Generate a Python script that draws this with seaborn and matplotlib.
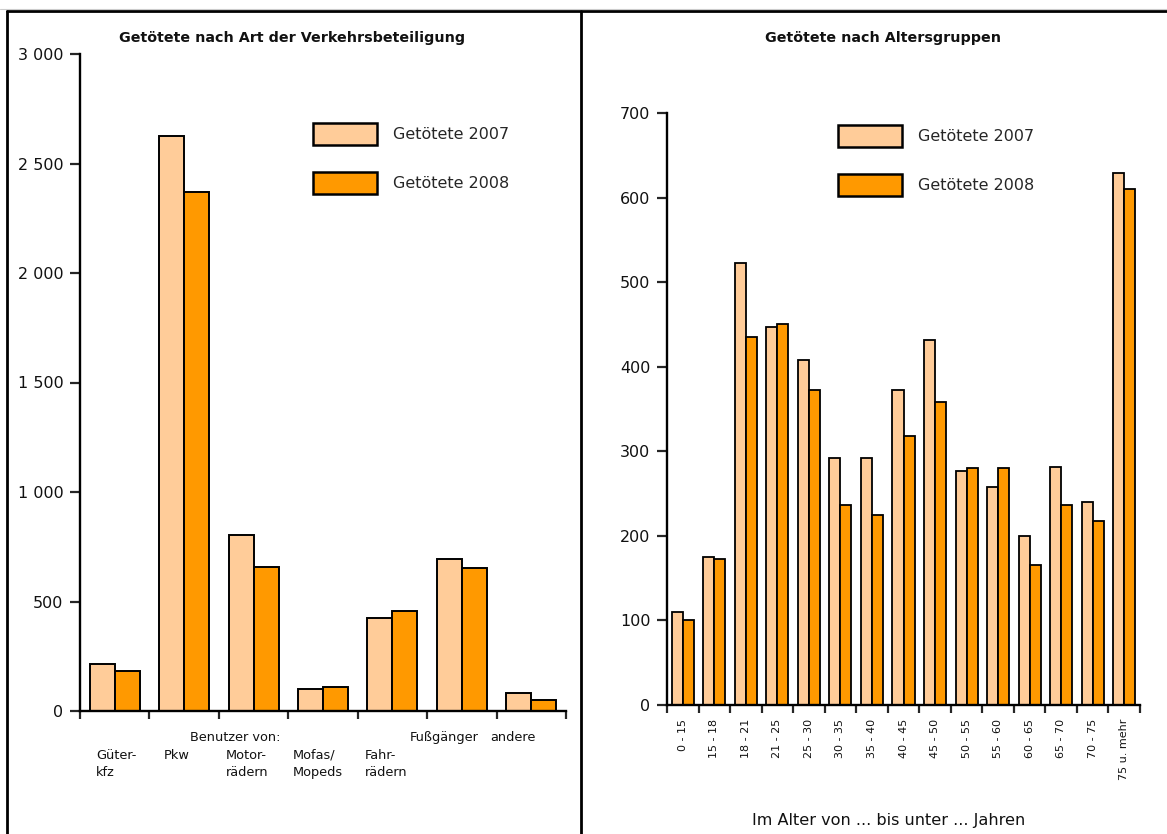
import numpy as np
import pandas as pd
import matplotlib
matplotlib.use("Agg")
import matplotlib.pyplot as plt
import matplotlib.transforms as mtransforms
from matplotlib.patches import Patch
from matplotlib.lines import Line2D
import seaborn as sns

# ---------------- data ----------------
years = ["Getötete 2007", "Getötete 2008"]

left_categories = ["Güterkfz", "Pkw", "Motorräder", "Mofas/Mopeds", "Fahrräder", "Fußgänger", "andere"]
left_2007 = [214, 2625, 805, 100, 425, 695, 82]
left_2008 = [183, 2368, 656, 110, 456, 653, 50]
left_labels = ["Güter-\nkfz", "Pkw", "Motor-\nrädern", "Mofas/\nMopeds", "Fahr-\nrädern", "Fußgänger", "andere"]
left_group_label = "Benutzer von:"
left_yticks = [0, 500, 1000, 1500, 2000, 2500, 3000]

age_groups = ["0 - 15", "15 - 18", "18 - 21", "21 - 25", "25 - 30", "30 - 35", "35 - 40",
              "40 - 45", "45 - 50", "50 - 55", "55 - 60", "60 - 65", "65 - 70", "70 - 75", "75 u. mehr"]
age_2007 = [110, 175, 523, 447, 408, 292, 292, 372, 431, 277, 258, 200, 282, 240, 629]
age_2008 = [101, 173, 435, 451, 372, 237, 225, 318, 358, 280, 280, 165, 237, 217, 610]
right_yticks = [0, 100, 200, 300, 400, 500, 600, 700]

title_left = "Getötete nach Art der Verkehrsbeteiligung"
title_right = "Getötete nach Altersgruppen"
xlabel_right = "Im Alter von ... bis unter ... Jahren"

colors = ["#FFCC99", "#FF9900"]

sns.set_style("white")
plt.rcParams["font.family"] = ["DejaVu Sans"]

W, H = 1167, 834
fig = plt.figure(figsize=(W / 100, H / 100), dpi=100)


def fx(px):
    return px / W


def fy(py):
    return 1 - py / H


# axes placement (pixel based)
axL = fig.add_axes([fx(80), fy(711), fx(566 - 80), (711 - 54) / H])
axR = fig.add_axes([fx(667), fy(705), fx(1140 - 667), (705 - 113) / H])

dfL = pd.DataFrame({
    "cat": left_categories * 2,
    "val": left_2007 + left_2008,
    "year": [years[0]] * len(left_categories) + [years[1]] * len(left_categories),
})
dfR = pd.DataFrame({
    "cat": age_groups * 2,
    "val": age_2007 + age_2008,
    "year": [years[0]] * len(age_groups) + [years[1]] * len(age_groups),
})

sns.barplot(data=dfL, x="cat", y="val", hue="year", palette=colors, ax=axL,
            width=0.72, edgecolor="black", linewidth=1.4, legend=False, saturation=1)
sns.barplot(data=dfR, x="cat", y="val", hue="year", palette=colors, ax=axR,
            width=0.70, edgecolor="black", linewidth=1.3, legend=False, saturation=1)


def style_axis(ax, n, ymax, yticks):
    ax.set_xlim(-0.5, n - 0.5)
    ax.set_ylim(0, ymax)
    for s in ["top", "right"]:
        ax.spines[s].set_visible(False)
    for s in ["left", "bottom"]:
        ax.spines[s].set_linewidth(1.7)
        ax.spines[s].set_color("black")
    ax.set_yticks(yticks)
    ax.set_yticklabels([f"{v:,}".replace(",", " ") for v in yticks], fontsize=11.5, color="#111111")
    ax.tick_params(axis="y", direction="out", length=7, width=1.6, pad=5, left=True)
    ax.set_xticks(np.arange(-0.5, n, 1.0), minor=True)
    ax.tick_params(axis="x", which="minor", direction="out", length=6, width=1.6, bottom=True)
    ax.set_xlabel("")
    ax.set_ylabel("")
    ax.set_facecolor("none")


style_axis(axL, len(left_categories), 3000, left_yticks)
style_axis(axR, len(age_groups), 700, right_yticks)

# left category labels
axL.set_xticks(range(len(left_categories)))
axL.set_xticklabels([])
axL.tick_params(axis="x", which="major", length=0)
label_x = [0.02, 0.89, 1.91, 2.93, 3.91, 4.74, 5.74]
label_y = [757, 757, 757, 757, 757, 739, 739]
trans = mtransforms.blended_transform_factory(axL.transData, fig.transFigure)
for lx, ly, lab in zip(label_x, label_y, left_labels):
    axL.text(lx, fy(ly - 8), lab, transform=trans, ha="center", va="top",
             multialignment="left", fontsize=9.3, linespacing=1.4, color="#111111")
axL.text(1.74, fy(739 - 8), left_group_label, transform=trans, ha="center", va="top",
         fontsize=9.3, color="#111111")

# right tick labels
axR.set_xticks(range(len(age_groups)))
axR.set_xticklabels(age_groups, rotation=90, fontsize=8.0, va="top", ha="center", color="#111111")
axR.tick_params(axis="x", which="major", length=0, pad=10)

# titles
fig.text(fx(292), fy(38), title_left, ha="center", va="center",
         fontsize=10.3, fontweight="bold", color="#111111")
fig.text(fx(883), fy(38), title_right, ha="center", va="center",
         fontsize=10.3, fontweight="bold", color="#111111")
fig.text(fx(889), fy(821), xlabel_right, ha="center", va="center", fontsize=11.6, color="#111111")

# legends
handles = [Patch(facecolor=c, edgecolor="black", linewidth=1.8) for c in colors]
for pos in [(fx(313), fy(123)), (fx(838), fy(125))]:
    fig.legend(handles, years, loc="upper left", bbox_to_anchor=pos, frameon=False,
               fontsize=11.5, handlelength=4.0, handleheight=1.74, labelspacing=1.7,
               handletextpad=1.0, borderaxespad=0, borderpad=0)

# outer frame and divider
fig.add_artist(Line2D([fx(7), fx(7)], [fy(11), 0], color="black", lw=2))
fig.add_artist(Line2D([fx(7), 1], [fy(11), fy(11)], color="black", lw=2))
fig.add_artist(Line2D([fx(581), fx(581)], [fy(11), 0], color="black", lw=2))
fig.add_artist(Line2D([0, 1], [fy(9), fy(9)], color="#cccccc", lw=0.8))

fig.savefig("out.png", dpi=100)
